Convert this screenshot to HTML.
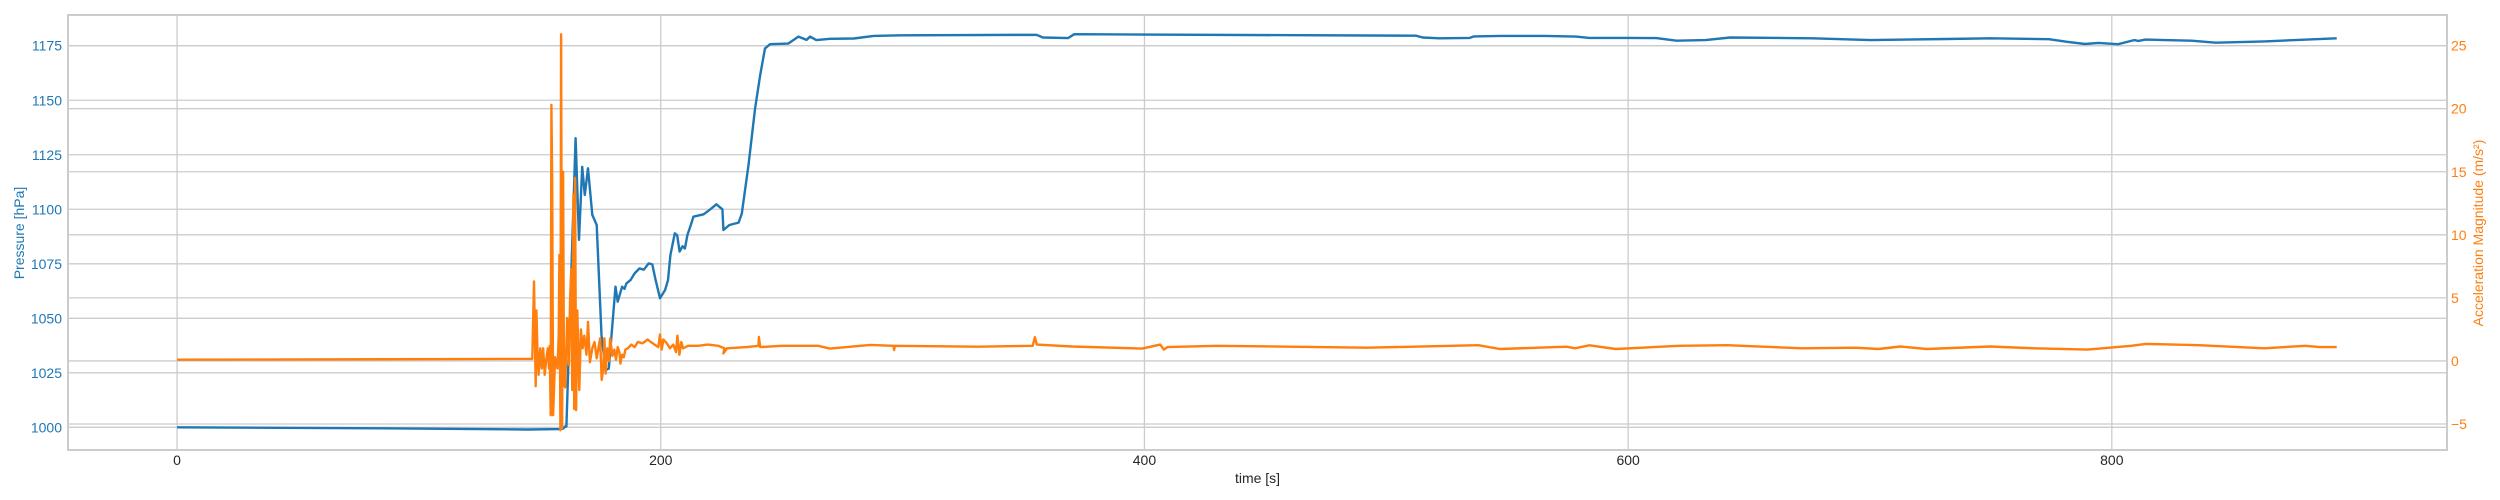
<!DOCTYPE html>
<html><head><meta charset="utf-8">
<style>
html,body{margin:0;padding:0;background:#fff;}
svg{display:block;font-family:"Liberation Sans",sans-serif;}
</style></head>
<body>
<svg id="chart" width="2500" height="500" viewBox="0 0 2500 500" xmlns="http://www.w3.org/2000/svg"></svg>
<script>
// ---- data ----
const xTicks = [0, 200, 400, 600, 800];
const pTicks = [1000, 1025, 1050, 1075, 1100, 1125, 1150, 1175];
const aTicks = [-5, 0, 5, 10, 15, 20, 25];
const pressureTime = [0,92,145,158,159.8,160.4,161,164.8,166.2,167.5,168.6,169.9,171.7,173.5,175.5,177.2,178.5,181.3,182.2,184,185,185.8,187.5,189.2,191.2,193,195,196.5,197.8,199.7,201.8,203,204,205.8,206.8,207.8,209,210,211,212.5,213.5,217.7,220.5,223,225.5,225.9,228.4,232.2,233.5,236.3,239,241.1,243.1,245.2,252.7,256.9,260.3,261.7,264.3,270,279.8,288,300,355.4,358,368.4,371,399.7,512.3,515,522,534.5,536.3,547,565.5,578.4,583.9,600.6,611.6,620,632,642.2,676.3,700.3,731.7,750,774,781.5,788.9,794.4,802.6,809.2,811,813.9,833,843,863,893];
const pressureVal = [1000,999.5,999,999.2,999.5,1000.4,1000.4,1132.6,1086,1119.5,1106.6,1118.8,1097.4,1092.8,1042.3,1026.3,1027,1064.5,1057.6,1064.5,1063.5,1066,1067.5,1070.6,1072.9,1072.3,1075.2,1074.7,1068,1059.2,1063,1067.5,1079,1089,1088,1080.6,1083,1082,1088.2,1093,1096.6,1097.7,1100,1102.3,1100,1090.5,1092.8,1093.9,1098,1120.3,1146.3,1161.6,1173.8,1175.7,1176,1179.2,1177.7,1179.2,1177.6,1178.2,1178.3,1179.5,1179.8,1180,1178.8,1178.5,1180.3,1180.1,1179.6,1178.8,1178.4,1178.6,1179.3,1179.5,1179.5,1179.2,1178.6,1178.6,1178.5,1177.3,1177.6,1178.8,1178.4,1177.6,1178.1,1178.4,1178,1176.8,1175.8,1176.3,1175.7,1177.6,1177.2,1177.8,1177.3,1176.4,1177,1178.4];
const accelTime = [0,146.9,147.6,148.3,148.6,149,149.5,150.2,150.8,151.4,152,152.6,153.3,153.8,154.1,154.5,154.8,155.1,155.5,156.3,157.3,157.8,158.1,158.5,158.8,159.2,159.6,160,160.5,161.3,162,162.5,163,163.4,163.9,164.2,164.6,165,165.5,166.3,167,167.7,168.4,169.3,169.9,170.7,171.7,172.6,173.5,174.2,174.9,175.6,176.3,176.7,177.2,177.9,178.6,179.1,180,180.8,181.5,182.2,182.9,183.3,184,184.7,185.4,186.4,187.8,189.2,190.5,192.5,194.6,195.9,199,199.7,200.4,201.1,202.5,203.8,205.2,206.3,206.9,207.7,208.5,209.2,211.3,215.4,219.5,223.7,226.3,225.9,227.4,235.6,240.4,240.6,241.1,250,265,270,286.6,296.3,296.5,296.8,331,353.8,354.7,355.5,370,399,406.5,408,409.5,430,492,538,547,574.6,578,584,595,621,641,647,672,694,703.5,712.5,723.5,749.5,768,790,808,814,836,863,880,886,893];
const accelVal = [0.1,0.16,6.3,-2.0,4.0,1.0,-1.1,1.0,-0.6,1.0,-1.1,0.0,1.0,-0.6,1.2,-4.3,20.3,14.2,-4.3,0.3,-0.6,2.0,8.4,-5.5,25.9,-5.3,15,-1.9,-2.1,3.4,-0.3,4.9,7.3,-2.3,13.2,-3.8,14.5,-3.9,4.0,-2.3,2.5,1.0,2.0,0.5,3.1,-0.1,1.0,1.5,0.2,1.0,1.8,-1.5,-0.5,1.8,-1.0,1.0,0.0,1.8,0.4,0.9,0.1,1.1,0.7,-0.2,0.5,0.3,0.9,1.0,1.3,1.1,1.5,1.4,1.7,1.5,1.1,2.1,0.9,1.7,1.4,1.0,1.3,0.7,2.0,0.5,1.5,1.0,1.2,1.2,1.3,1.2,1.0,0.6,1.0,1.1,1.2,1.9,1.1,1.2,1.2,0.98,1.27,1.2,0.87,1.2,1.13,1.2,1.88,1.3,1.15,0.98,1.3,0.9,1.1,1.2,1.05,1.25,0.95,1.13,1.0,1.24,0.95,1.2,1.25,1.2,1.0,1.05,0.95,1.15,0.95,1.15,1.0,0.9,1.2,1.35,1.25,1.0,1.2,1.1,1.1,0.8,0.8];

// ---- axes ----
const L = 68, R = 2447, T = 15, B = 450;
const xMin = -45.1, xMax = 938.6;
const pMin = 989.6, pMax = 1189.1;
const aMin = -7.06, aMax = 27.43;
const X = t => L + (t - xMin) / (xMax - xMin) * (R - L);
const YP = v => B - (v - pMin) / (pMax - pMin) * (B - T);
const YA = v => B - (v - aMin) / (aMax - aMin) * (B - T);
const NS = 'http://www.w3.org/2000/svg';
const svg = document.getElementById('chart');
function mk(tag, attrs, parent) {
  const e = document.createElementNS(NS, tag);
  for (const k in attrs) e.setAttribute(k, attrs[k]);
  (parent || svg).appendChild(e);
  return e;
}
const grid = mk('g', {});


xTicks.forEach(t => {
  const l = mk('line', {x1: X(t), x2: X(t), y1: T, y2: B, stroke: '#cccccc', 'stroke-width': 1.3}, grid);
  
  
  const tx = mk('text', {x: X(t), y: 465, 'font-size': 14, fill: '#262626', 'text-anchor': 'middle'});
  tx.textContent = t;
  
  
});
pTicks.forEach(v => {
  const l = mk('line', {x1: L, x2: R, y1: YP(v), y2: YP(v), stroke: '#cccccc', 'stroke-width': 1.3}, grid);
  
  
  const tx = mk('text', {x: 62, y: YP(v) + 5, 'font-size': 14, fill: '#1f77b4', 'text-anchor': 'end'});
  tx.textContent = v;
  
  
});
aTicks.forEach(v => {
  const l = mk('line', {x1: L, x2: R, y1: YA(v), y2: YA(v), stroke: '#cccccc', 'stroke-width': 1.3}, grid);
  
  
  const tx = mk('text', {x: 2451, y: YA(v) + 5, 'font-size': 14, fill: '#ff7f0e', 'text-anchor': 'start'});
  tx.textContent = v < 0 ? '\u2212' + Math.abs(v) : v;
  
  
});
const frame = mk('rect', {x: L, y: T, width: R - L, height: B - T, fill: 'none', stroke: '#cccccc', 'stroke-width': 2});



const clip = mk('clipPath', {id: 'pc'});
mk('rect', {x: L, y: T, width: R - L, height: B - T}, clip);

function pts(ts, vs, fy) { return ts.map((t, i) => X(t).toFixed(1) + ',' + fy(vs[i]).toFixed(1)).join(' '); }
const pl = mk('polyline', {points: pts(pressureTime, pressureVal, YP), fill: 'none', stroke: '#1f77b4', 'stroke-width': 2.4, 'stroke-linejoin': 'round', 'clip-path': 'url(#pc)'});


const al = mk('polyline', {points: pts(accelTime, accelVal, YA), fill: 'none', stroke: '#ff7f0e', 'stroke-width': 2.4, 'stroke-linejoin': 'round', 'clip-path': 'url(#pc)'});



const xl = mk('text', {x: (L + R) / 2, y: 483, 'font-size': 14, fill: '#262626', 'text-anchor': 'middle'});
xl.textContent = 'time [s]';


const yl = mk('text', {x: 0, y: 0, 'font-size': 14, fill: '#1f77b4', 'text-anchor': 'middle', transform: 'translate(24,233) rotate(-90)'});
yl.textContent = 'Pressure [hPa]';


const yr = mk('text', {x: 0, y: 0, 'font-size': 14, fill: '#ff7f0e', 'text-anchor': 'middle', transform: 'translate(2483,233) rotate(-90)'});
yr.textContent = 'Acceleration Magnitude (m/s\u00B2)';


</script>
</body></html>
